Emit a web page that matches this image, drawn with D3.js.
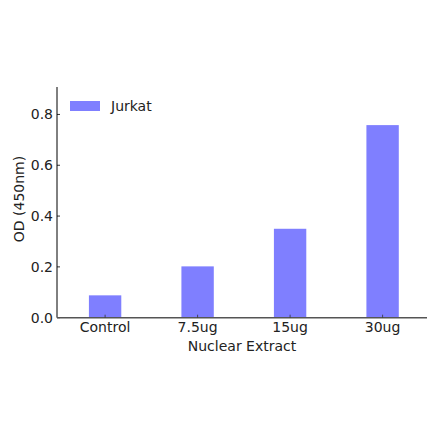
<!DOCTYPE html>
<html>
<head>
<meta charset="utf-8">
<script src="https://cdn.jsdelivr.net/npm/d3@7"></script>
<style>
  html, body { margin: 0; padding: 0; background: #fff; }
  svg { display: block; font-family: "DejaVu Sans", sans-serif; }
</style>
</head>
<body>
<div id="chart"></div>
<script>
const CATEGORIES = ["Control", "7.5ug", "15ug", "30ug"];
const VALUES = [0.088, 0.202, 0.350, 0.758];
const Y_TICKS = [0.0, 0.2, 0.4, 0.6, 0.8];
const SERIES_NAME = "Jurkat";

const width = 440;
const height = 441;
const plotLeft = 57;
const plotRight = 427;
const plotTop = 87;
const plotBottom = 317.7;
const barColor = "#7f7fff";
const fontSize = 14;

const svg = d3
  .select("#chart")
  .append("svg")
  .attr("width", width)
  .attr("height", height);

// matplotlib-like category positions: index -> pixel
const x = d3.scaleLinear().domain([-0.52, 3.48]).range([plotLeft, plotRight]);
const y = d3.scaleLinear().domain([0, 0.908]).range([plotBottom, plotTop]);
const barWidth = x(0.35) - x(0);

svg
  .append("g")
  .selectAll("rect")
  .data(VALUES)
  .join("rect")
  .attr("x", (d, i) => x(i) - barWidth / 2)
  .attr("y", (d) => y(d))
  .attr("width", barWidth)
  .attr("height", (d) => y(0) - y(d))
  .attr("fill", barColor);

// y axis
const yAxis = svg.append("g").attr("transform", `translate(${plotLeft},0)`);
yAxis
  .append("line")
  .attr("y1", plotTop)
  .attr("y2", plotBottom)
  .attr("stroke", "#000")
  .attr("stroke-width", 1);
yAxis
  .selectAll("line.tick")
  .data(Y_TICKS)
  .join("line")
  .attr("class", "tick")
  .attr("x1", 0)
  .attr("x2", 3)
  .attr("y1", (d) => y(d))
  .attr("y2", (d) => y(d))
  .attr("stroke", "#000")
  .attr("stroke-width", 0.8);
yAxis
  .selectAll("text")
  .data(Y_TICKS)
  .join("text")
  .attr("x", -4)
  .attr("y", (d) => y(d))
  .attr("dy", "0.36em")
  .attr("text-anchor", "end")
  .attr("font-size", fontSize)
  .attr("fill", "#222")
  .text((d) => d3.format(".1f")(d));

// x axis
const xAxis = svg.append("g").attr("transform", `translate(0,${plotBottom})`);
xAxis
  .append("line")
  .attr("x1", plotLeft)
  .attr("x2", plotRight)
  .attr("stroke", "#555")
  .attr("stroke-width", 1.4);
xAxis
  .selectAll("line.tick")
  .data(CATEGORIES)
  .join("line")
  .attr("class", "tick")
  .attr("x1", (d, i) => x(i))
  .attr("x2", (d, i) => x(i))
  .attr("y1", 0)
  .attr("y2", -3)
  .attr("stroke", "#333")
  .attr("stroke-width", 0.8);
xAxis
  .selectAll("text")
  .data(CATEGORIES)
  .join("text")
  .attr("x", (d, i) => x(i))
  .attr("y", 14)
  .attr("text-anchor", "middle")
  .attr("font-size", fontSize)
  .attr("fill", "#222")
  .text((d) => d);

// axis labels
svg
  .append("text")
  .attr("x", 242)
  .attr("y", 351)
  .attr("text-anchor", "middle")
  .attr("font-size", fontSize)
  .attr("fill", "#222")
  .text("Nuclear Extract");

svg
  .append("text")
  .attr("transform", "translate(23.5,199) rotate(-90)")
  .attr("text-anchor", "middle")
  .attr("font-size", fontSize)
  .attr("fill", "#222")
  .text("OD (450nm)");

// legend
const legend = svg.append("g").attr("transform", "translate(70,101)");
legend.append("rect").attr("width", 30).attr("height", 10).attr("fill", barColor);
legend
  .append("text")
  .attr("x", 41)
  .attr("y", 5)
  .attr("dy", "0.36em")
  .attr("font-size", fontSize)
  .attr("fill", "#222")
  .text(SERIES_NAME);
</script>
</body>
</html>
